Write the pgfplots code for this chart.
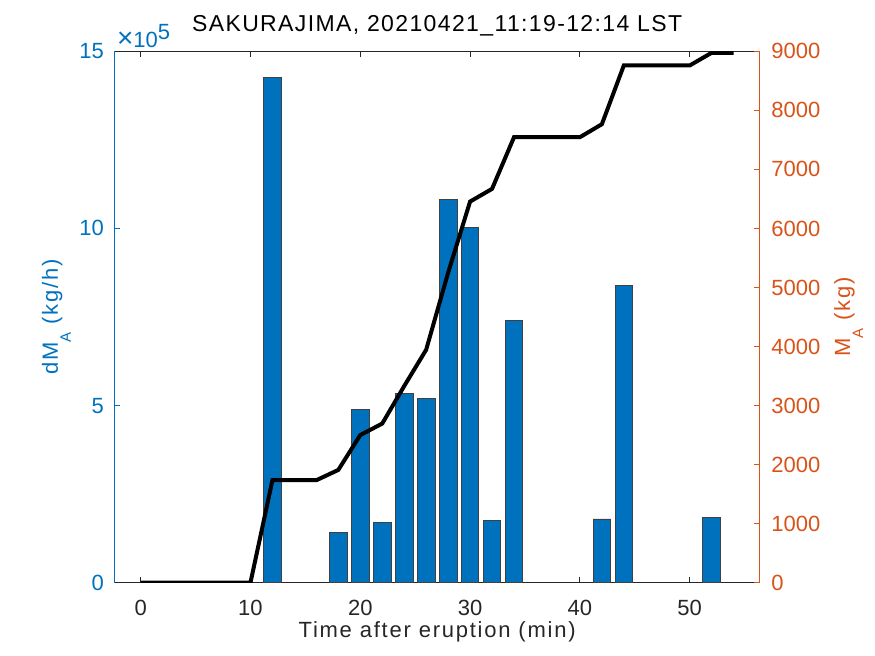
\documentclass[border=0pt]{standalone}
\usepackage{fontspec}
\setmainfont{Liberation Sans}
\newfontfamily\labfont[LetterSpace=8]{Liberation Sans}
\newfontfamily\titfont[LetterSpace=6]{Liberation Sans}
\usepackage{pgfplots}
\usepackage{pgfplotstable}
\pgfplotsset{compat=1.18}

\definecolor{mblue}{rgb}{0,0.447,0.741}
\definecolor{morange}{rgb}{0.85,0.325,0.098}
\definecolor{mgray}{rgb}{0.15,0.15,0.15}

% ash emission rate (kg/h), every 2 min
\pgfplotstableread{
x dm
12 1427000
18 142000
20 490000
22 169000
24 535000
26 519000
28 1081000
30 1003000
32 176000
34 740000
42 180000
44 839000
52 185000
}\ratetable

% cumulative mass (kg)
\pgfplotstableread{
x m
0 0
2 0
4 0
6 0
8 0
10 0
12 1735
14 1735
16 1735
18 1910
20 2500
22 2695
24 3330
26 3945
28 5250
30 6455
32 6670
34 7545
36 7545
38 7545
40 7545
42 7765
44 8760
46 8760
48 8760
50 8760
52 8975
54 8975
}\masstable

\begin{document}
\begin{tikzpicture}
\path[use as bounding box] (-57.15pt,-36.65pt) rectangle (380.35pt,291.35pt);
\pgfplotsset{
  common/.style={
    scale only axis,
    width=322.85pt, height=265.7pt,
    xmin=-2.4, xmax=56.4,
    /pgf/number format/assume math mode=true,
    tick label style={font=\fontsize{11}{13}\selectfont},
    major tick length=3pt,
  }
}
\begin{axis}[common, name=left,
  axis x line*=box, axis y line*=left,
  ymin=0, ymax=1500000,
  scaled y ticks=false,
  xtick={0,10,...,50},
  ytick={0,500000,1000000,1500000},
  yticklabels={0,5,10,15},
  x axis line style={mgray, line width=0.5pt},
  y axis line style={mblue, line width=0.5pt},
  xtick style={mgray, line width=0.5pt},
  ytick style={mblue, line width=0.5pt},
  xticklabel style={text=mgray, inner sep=0pt, anchor=north, yshift=-8.5pt},
  yticklabel style={text=mblue, inner sep=0pt, anchor=east, xshift=-5pt},
  title={SAKURAJIMA, 20210421\_11:19-12:14 LST},
  title style={at={(axis description cs:0.5,1.01505)}, anchor=base, inner sep=0pt,
    font=\titfont\fontsize{11.5}{13}\selectfont, text=black},
  xlabel={Time after eruption (min)},
  xlabel style={at={(axis description cs:0.5,-0.10275)}, anchor=base, inner sep=0pt,
    font=\labfont\fontsize{11}{13}\selectfont, text=mgray},
  ylabel={dM\raisebox{-6.5pt}{\fontsize{7.5}{9}\selectfont A} (kg/h)},
  ylabel style={at={(axis description cs:-0.0872,0.5)}, anchor=base, rotate=0, inner sep=0pt,
    font=\labfont\fontsize{11}{13}\selectfont, text=mblue},
]
\addplot[ybar, bar width=1.6, fill=mblue, draw=black!75, line width=0.4pt]
  table[x=x, y=dm] {\ratetable};
\end{axis}

\begin{axis}[common,
  axis x line=none, axis y line*=right,
  ymin=0, ymax=9000,
  ytick={0,1000,...,9000},
  /pgf/number format/set thousands separator={},
  y axis line style={morange, line width=0.5pt},
  ytick style={morange, line width=0.5pt},
  yticklabel style={text=morange, inner sep=0pt, anchor=west, xshift=5.5pt},
  ylabel={M\raisebox{-6.5pt}{\fontsize{7.5}{9}\selectfont A} (kg)},
  ylabel style={at={(axis description cs:1.1394,0.5)}, anchor=base, rotate=0, inner sep=0pt,
    font=\labfont\fontsize{11}{13}\selectfont, text=morange},
]
\addplot[black, line width=2pt, line join=miter] table[x=x, y=m] {\masstable};
\end{axis}

\node[anchor=base west, inner sep=0pt, text=mblue, font=\fontsize{11}{13}\selectfont]
  at ([xshift=1.2pt,yshift=2pt]left.north west) {{\fontsize{14}{14}\selectfont ×}10\raisebox{4pt}{5}};
\end{tikzpicture}
\end{document}
